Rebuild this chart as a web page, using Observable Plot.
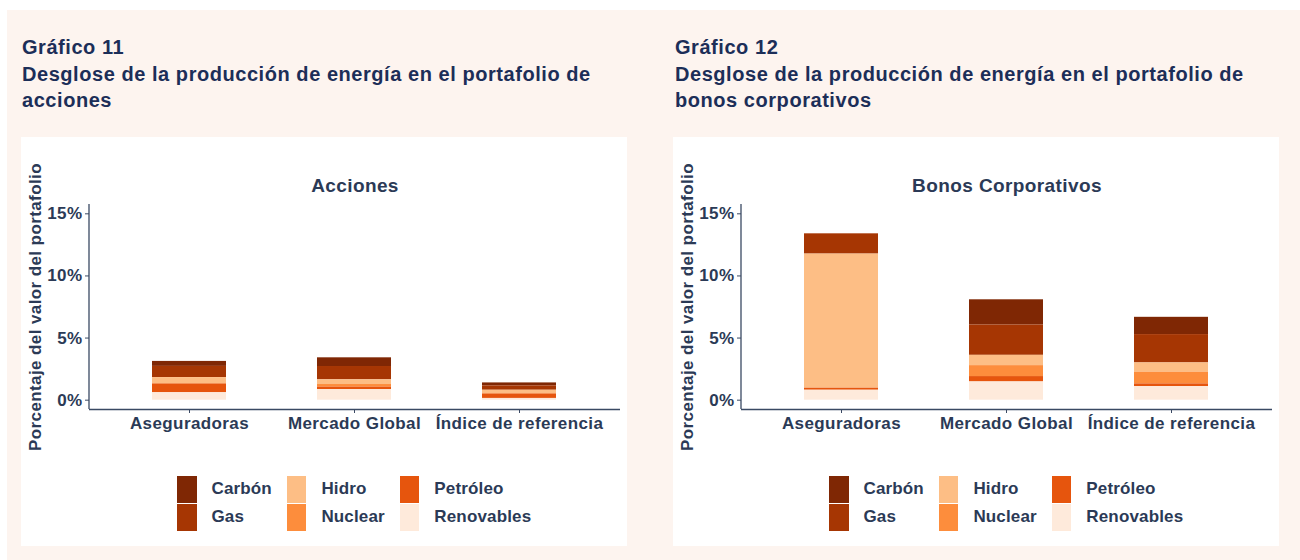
<!DOCTYPE html>
<html>
<head>
<meta charset="utf-8">
<script src="https://cdn.jsdelivr.net/npm/d3@7"></script>
<script src="https://cdn.jsdelivr.net/npm/@observablehq/plot@0.6"></script>
<style>
  html, body { margin: 0; padding: 0; background: #ffffff; width: 1300px; height: 560px; overflow: hidden; }
  body { position: relative; font-family: "Liberation Sans", Arial, sans-serif; }
  #bg { position: absolute; left: 7px; top: 10px; width: 1293px; height: 550px; background: #fdf4ef; }
  .title { position: absolute; top: 34px; font-size: 20px; letter-spacing: 0.55px; font-weight: bold; line-height: 26.5px; color: #1c2e58; }
  .panel { position: absolute; top: 137px; width: 606px; height: 409px; background: #ffffff; }
  .panel svg { position: absolute; left: 0; top: 0; }
  .legend { position: absolute; top: 338px; left: 0; width: 606px; display: flex; justify-content: flex-start; }
  .lgrid { margin-left: 156px; display: grid; grid-template-rows: 28px 28px; grid-auto-flow: column; column-gap: 15px; }
  .item { display: flex; align-items: center; height: 28px; font-size: 17px; letter-spacing: 0.15px; font-weight: bold; color: #2b3a56; }
  .sw { width: 19.5px; height: 27px; margin-right: 15px; }
</style>
</head>
<body>
<div id="bg"></div>
<div class="title" style="left:22px;">Gráfico 11<br>Desglose de la producción de energía en el portafolio de<br>acciones</div>
<div class="title" style="left:675px;">Gráfico 12<br>Desglose de la producción de energía en el portafolio de<br>bonos corporativos</div>
<div class="panel" id="p1" style="left:21px;"></div>
<div class="panel" id="p2" style="left:673px;"></div>
<script>
// ---- data ----
const categories = ["Aseguradoras", "Mercado Global", "Índice de referencia"];
const sources = ["Carbón", "Gas", "Hidro", "Nuclear", "Petróleo", "Renovables"];
const stackOrder = ["Renovables", "Petróleo", "Nuclear", "Hidro", "Gas", "Carbón"];
const sourceColors = ["#7f2704", "#a63603", "#fdbe85", "#fd8d3c", "#e6550d", "#feeadb"];
const yTicks = [0, 5, 10, 15];
const yDomain = [-0.75, 15.75];
const yLabel = "Porcentaje del valor del portafolio";

// Acciones (% of portfolio value), per source, per category
const carbonAcciones    = [0.40, 0.70, 0.24];
const gasAcciones       = [0.90, 1.07, 0.35];
const hidroAcciones     = [0.48, 0.38, 0.26];
const nuclearAcciones   = [0.04, 0.21, 0.05];
const petroleoAcciones  = [0.70, 0.19, 0.35];
const renovAcciones     = [0.60, 0.86, 0.14];

// Bonos corporativos
const carbonBonos    = [0.00, 2.03, 1.39];
const gasBonos       = [1.63, 2.44, 2.28];
const hidroBonos     = [10.80, 0.83, 0.75];
const nuclearBonos   = [0.00, 0.88, 0.94];
const petroleoBonos  = [0.16, 0.43, 0.21];
const renovBonos     = [0.80, 1.47, 1.10];

const accionesSeries = [carbonAcciones, gasAcciones, hidroAcciones, nuclearAcciones, petroleoAcciones, renovAcciones];
const bonosSeries = [carbonBonos, gasBonos, hidroBonos, nuclearBonos, petroleoBonos, renovBonos];

const textColor = "#2b3a56";
const axisColor = "#3a4963";

function chart(title, series) {
  const data = [];
  sources.forEach((s, i) => categories.forEach((c, j) => data.push({cat: c, src: s, v: series[i][j]})));
  return Plot.plot({
    width: 606, height: 300,
    marginTop: 67, marginBottom: 28, marginLeft: 68, marginRight: 7,
    style: {background: "transparent", fontFamily: "'Liberation Sans', Arial, sans-serif", fontWeight: "bold", fontSize: "17px", letterSpacing: "0.4px", color: textColor, overflow: "visible"},
    x: {type: "band", domain: categories, paddingInner: 0.55, paddingOuter: 0.375, label: null},
    y: {domain: yDomain, label: null},
    color: {domain: sources, range: sourceColors},
    marks: [
      Plot.barY(data, {x: "cat", y: "v", fill: "src", order: stackOrder}),
      Plot.axisY({ticks: yTicks, tickFormat: d => d + "%", tickSize: 4, tickPadding: 3, label: null, stroke: axisColor, fontSize: 17}),
      Plot.axisX({tickSize: 4, tickPadding: 3, label: null, stroke: axisColor, fontSize: 17}),
      Plot.ruleY([yDomain[0]], {stroke: axisColor, strokeWidth: 1.3}),
      (index, scales, values, dims) => {
        const l = d3.create("svg:line")
          .attr("x1", dims.marginLeft).attr("x2", dims.marginLeft)
          .attr("y1", scales.y(yDomain[1])).attr("y2", scales.y(yDomain[0]))
          .attr("stroke", axisColor).attr("stroke-width", 1.3);
        return l.node();
      },
      Plot.text([title], {frameAnchor: "top", dy: -26, fontSize: 19, fontWeight: "bold", fill: textColor}),
      Plot.text([yLabel], {frameAnchor: "left", dx: -54, rotate: -90, textAnchor: "middle", lineAnchor: "middle", fontSize: 17, fontWeight: "bold", fill: textColor})
    ]
  });
}

function legend() {
  const wrap = document.createElement("div");
  wrap.className = "legend";
  const grid = document.createElement("div");
  grid.className = "lgrid";
  sources.forEach((s, i) => {
    const it = document.createElement("div");
    it.className = "item";
    const sw = document.createElement("div");
    sw.className = "sw";
    sw.style.background = sourceColors[i];
    const lb = document.createElement("span");
    lb.textContent = s;
    it.appendChild(sw); it.appendChild(lb);
    grid.appendChild(it);
  });
  wrap.appendChild(grid);
  return wrap;
}

const p1 = document.getElementById("p1");
p1.appendChild(chart("Acciones", accionesSeries));
p1.appendChild(legend());
const p2 = document.getElementById("p2");
p2.appendChild(chart("Bonos Corporativos", bonosSeries));
p2.appendChild(legend());
</script>
</body>
</html>
